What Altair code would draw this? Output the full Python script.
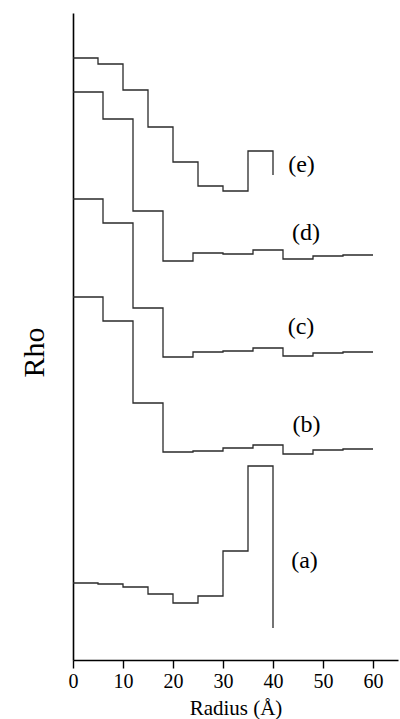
import altair as alt
import pandas as pd

# Radial density profiles, offset vertically for clarity (arbitrary units)
x_a = [0, 5, 10, 15, 20, 25, 30, 35, 40]
rho_a = [0.77, 0.76, 0.73, 0.66, 0.57, 0.64, 1.09, 1.94, 0.32]

x_b = [0, 6, 12, 18, 24, 30, 36, 42, 48, 54, 60]
rho_b = [3.63, 3.39, 2.57, 2.08, 2.09, 2.12, 2.15, 2.06, 2.10, 2.11, 2.11]

x_c = [0, 6, 12, 18, 24, 30, 36, 42, 48, 54, 60]
rho_c = [4.61, 4.37, 3.52, 3.03, 3.08, 3.09, 3.12, 3.04, 3.07, 3.08, 3.08]

x_d = [0, 6, 12, 18, 24, 30, 36, 42, 48, 54, 60]
rho_d = [5.68, 5.41, 4.49, 3.99, 4.07, 4.06, 4.10, 4.01, 4.04, 4.05, 4.05]

x_e = [0, 5, 10, 15, 20, 25, 30, 35, 40]
rho_e = [6.02, 5.96, 5.70, 5.33, 4.98, 4.74, 4.69, 5.09, 4.85]

# Curve labels and where they sit (data coordinates)
label_text = ["(a)", "(b)", "(c)", "(d)", "(e)"]
label_x = [46.3, 46.7, 45.6, 46.6, 45.7]
label_rho = [0.99, 2.35, 3.33, 4.27, 4.95]

series = {"a": (x_a, rho_a), "b": (x_b, rho_b), "c": (x_c, rho_c),
          "d": (x_d, rho_d), "e": (x_e, rho_e)}
rows = []
for name, (xs, ys) in series.items():
    for i, (xv, yv) in enumerate(zip(xs, ys)):
        rows.append({"series": name, "idx": i, "radius": xv, "rho": yv})
df = pd.DataFrame(rows)
labels = pd.DataFrame({"text": label_text, "radius": label_x, "rho": label_rho})

FONT = "Liberation Serif"

x_scale = alt.Scale(domain=[0, 65], nice=False)
y_scale = alt.Scale(domain=[0, 6.47], nice=False, zero=False)

x_axis = alt.Axis(
    title="Radius (Å)",
    values=list(range(0, 70, 5)),
    labelExpr="datum.value % 10 === 0 ? datum.label : ''",
    tickSize={"condition": {"test": "datum.value % 10 === 0", "value": 8}, "value": 4},
    labelFlush=False,
    grid=False,
    domainColor="black",
    domainWidth=1.6,
    tickColor="black",
    tickWidth=1.4,
    labelFont=FONT,
    labelFontSize=20,
    labelColor="black",
    labelPadding=3,
    titleFont=FONT,
    titleFontSize=21,
    titleFontWeight="normal",
    titleColor="black",
    titlePadding=6,
)
y_axis = alt.Axis(
    title="Rho",
    ticks=False,
    labels=False,
    grid=False,
    domainColor="black",
    domainWidth=1.6,
    titleFont=FONT,
    titleFontSize=30,
    titleFontWeight="normal",
    titleColor="black",
    titlePadding=24,
    titleY=339,
)

lines = alt.Chart(df).mark_line(
    interpolate="step-after", color="#2a2a2a", strokeWidth=1.3
).encode(
    x=alt.X("radius:Q", scale=x_scale, axis=x_axis),
    y=alt.Y("rho:Q", scale=y_scale, axis=y_axis),
    detail="series:N",
    order="idx:Q",
)

text = alt.Chart(labels).mark_text(
    font=FONT, fontSize=24, color="black", align="center", baseline="middle"
).encode(
    x=alt.X("radius:Q", scale=x_scale),
    y=alt.Y("rho:Q", scale=y_scale),
    text="text:N",
)

chart = (
    alt.layer(lines, text)
    .properties(
        width=325,
        height=647,
        autosize=alt.AutoSizeParams(type="none"),
        padding={"left": 73, "top": 13, "right": 2, "bottom": 59},
        background="white",
    )
    .configure_view(strokeWidth=0)
)

chart.save("out.html", embed_options={"renderer": "svg", "actions": False})
